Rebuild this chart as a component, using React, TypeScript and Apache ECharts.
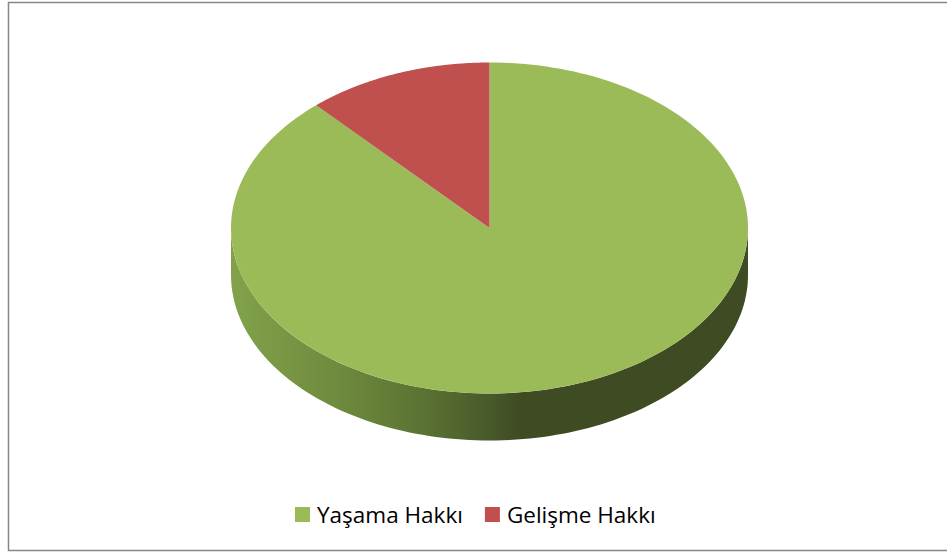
import React, { useEffect, useRef } from "react";
import * as echarts from "echarts";

const categories = ["Yaşama Hakkı", "Gelişme Hakkı"];
const values = [88.3, 11.7];
const topColors = ["#9bbb59", "#c0504d"];

const CX = 489.5;
const CY = 228;
const RX = 258.5;
const RY = 165.5;
const DEPTH = 47;

function pt(theta: number, dy = 0): number[] {
  return [CX + RX * Math.sin(theta), CY - RY * Math.cos(theta) + dy];
}

function sliceRange(idx: number): [number, number] {
  const total = values.reduce((a, b) => a + b, 0);
  let start = 0;
  for (let i = 0; i < idx; i++) start += values[i];
  const a = (start / total) * Math.PI * 2;
  const b = ((start + values[idx]) / total) * Math.PI * 2;
  return [a, b];
}

function sideGradient(idx: number) {
  const stops =
    idx === 0
      ? [
          { offset: 0, color: "#82a24a" },
          { offset: 0.22, color: "#6d893d" },
          { offset: 0.38, color: "#5a7132" },
          { offset: 0.5, color: "#48592b" },
          { offset: 0.56, color: "#3f4b23" },
          { offset: 1, color: "#3f4b23" },
        ]
      : [
          { offset: 0, color: "#9c3f3d" },
          { offset: 0.5, color: "#6e2b29" },
          { offset: 1, color: "#5e2523" },
        ];
  return new echarts.graphic.LinearGradient(CX - RX, 0, CX + RX, 0, stops, true);
}

function makeRenderItem(idx: number) {
  return function () {
    const [a, b] = sliceRange(idx);
    const children: any[] = [];
    const sa = Math.max(a, Math.PI / 2);
    const sb = Math.min(b, (Math.PI * 3) / 2);
    if (sb > sa) {
      const n = 120;
      const upper: number[][] = [];
      const lower: number[][] = [];
      for (let i = 0; i <= n; i++) {
        const t = sa + ((sb - sa) * i) / n;
        upper.push(pt(t));
        lower.push(pt(t, DEPTH));
      }
      children.push({
        type: "polygon",
        z2: 1,
        shape: { points: upper.concat(lower.reverse()) },
        style: { fill: sideGradient(idx), stroke: null },
      });
    }
    const n2 = 200;
    const top: number[][] = [[CX, CY]];
    for (let i = 0; i <= n2; i++) {
      const t = a + ((b - a) * i) / n2;
      top.push(pt(t));
    }
    children.push({
      type: "polygon",
      z2: 10,
      shape: { points: top },
      style: { fill: topColors[idx], stroke: null },
    });
    return { type: "group", children };
  };
}

export default function App() {
  const ref = useRef<HTMLDivElement>(null);
  useEffect(() => {
    if (!ref.current) return;
    const chart = echarts.init(ref.current, undefined, { renderer: "svg" });
    chart.setOption({
      animation: false,
      backgroundColor: "#ffffff",
      graphic: [
        {
          type: "rect",
          shape: { x: 8.5, y: 2.5, width: 960, height: 548 },
          style: { fill: "none", stroke: "#868686", lineWidth: 1.5 },
          z: -1,
          silent: true,
        },
      ],
      legend: {
        data: categories,
        left: 290,
        top: 498,
        icon: "rect",
        itemWidth: 15,
        itemHeight: 15,
        itemGap: 22,
        textStyle: {
          fontFamily: "Open Sans",
          fontSize: 22.5,
          color: "#000000",
          padding: [0, 0, 0, 2],
        },
        selectedMode: false,
      },
      series: categories.map((name, idx) => ({
        type: "custom",
        name,
        coordinateSystem: "none",
        itemStyle: { color: topColors[idx] },
        data: [values[idx]],
        renderItem: makeRenderItem(idx),
        silent: true,
      })),
    });
    return () => chart.dispose();
  }, []);
  return (
    <div
      ref={ref}
      style={{ position: "fixed", left: 0, top: 0, width: 947, height: 552 }}
    />
  );
}
